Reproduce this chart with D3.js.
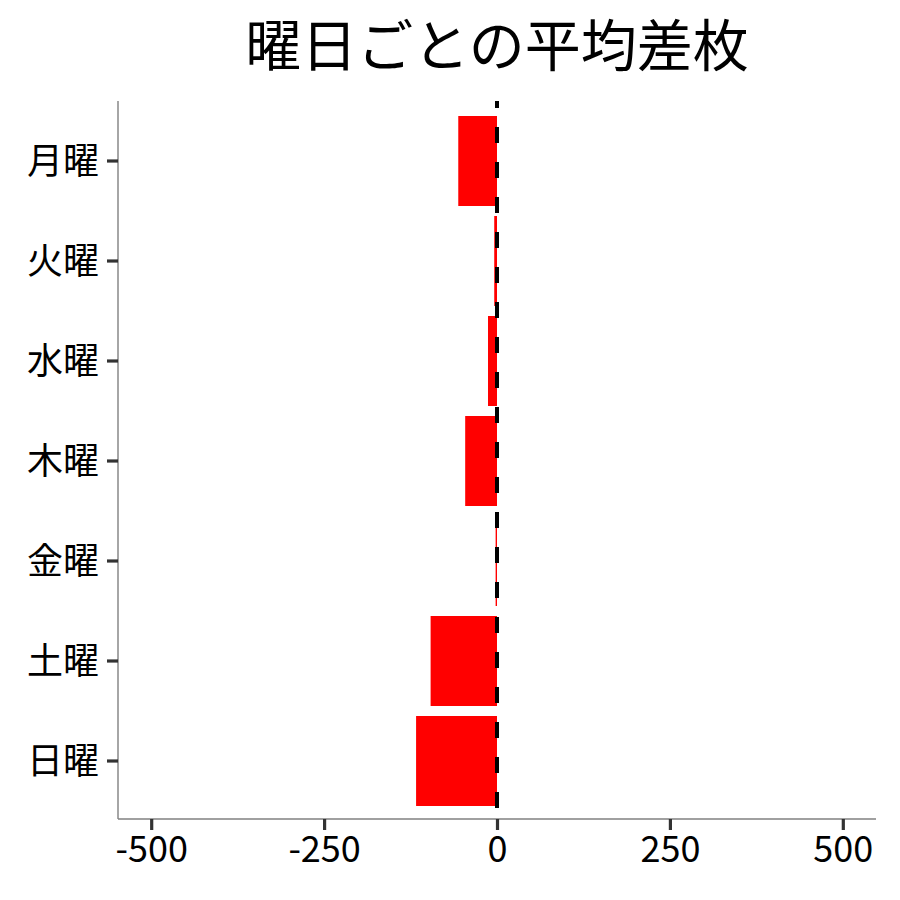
<!DOCTYPE html>
<html>
<head>
<meta charset="utf-8">
<script src="https://cdn.jsdelivr.net/npm/d3@7"></script>
<style>
  body { margin: 0; background: #fff; }
  text { font-family: "Noto Sans CJK JP", "Noto Sans", sans-serif; }
</style>
</head>
<body>
<div id="chart"></div>
<script>
// data
const days = ['月曜', '火曜', '水曜', '木曜', '金曜', '土曜', '日曜'];
const avgDiff = [-56, -4, -13, -46, -2, -96, -117];
const xTicks = [-500, -250, 0, 250, 500];
const title = '曜日ごとの平均差枚';

const w = 900, h = 900;
const panel = { left: 118, right: 876, top: 101, bottom: 819 };

const svg = d3.select('#chart').append('svg')
  .attr('width', w)
  .attr('height', h);

const xScale = d3.scaleLinear()
  .domain([-548, 548])
  .range([panel.left, panel.right]);

const yScale = d3.scaleBand()
  .domain(days)
  .range([106, 816])
  .paddingInner(0.1)
  .paddingOuter(0.1);

const rows = days.map((d, i) => ({ day: d, value: avgDiff[i] }));

// bars
svg.selectAll('rect.bar')
  .data(rows)
  .enter()
  .append('rect')
  .attr('class', 'bar')
  .attr('x', d => xScale(Math.min(0, d.value)))
  .attr('width', d => Math.abs(xScale(d.value) - xScale(0)))
  .attr('y', d => yScale(d.day))
  .attr('height', yScale.bandwidth())
  .style('fill', '#ff0000');

// zero line
svg.append('line')
  .attr('x1', xScale(0)).attr('x2', xScale(0))
  .attr('y1', panel.top).attr('y2', panel.bottom)
  .attr('stroke', '#000')
  .attr('stroke-width', 4)
  .attr('stroke-dasharray', '16,19')
  .attr('stroke-dashoffset', 9);

// axis lines
svg.append('line')
  .attr('x1', panel.left).attr('x2', panel.left)
  .attr('y1', panel.top).attr('y2', panel.bottom)
  .attr('stroke', '#808080').attr('stroke-width', 1.4);
svg.append('line')
  .attr('x1', panel.left).attr('x2', panel.right)
  .attr('y1', panel.bottom).attr('y2', panel.bottom)
  .attr('stroke', '#808080').attr('stroke-width', 1.4);

const yAxis = d3.axisLeft(yScale).tickSize(11).tickPadding(8);
const gy = svg.append('g')
  .attr('transform', 'translate(' + panel.left + ',0)')
  .call(yAxis);
gy.select('.domain').remove();
gy.selectAll('.tick line').attr('stroke', '#333').attr('stroke-width', 3.2);
gy.selectAll('.tick text')
  .attr('fill', '#000')
  .style('font-size', '36px')
  .attr('dy', '0.36em');

const xAxis = d3.axisBottom(xScale)
  .tickValues(xTicks)
  .tickFormat(d => String(d))
  .tickSize(11)
  .tickPadding(6);
const gx = svg.append('g')
  .attr('transform', 'translate(0,' + panel.bottom + ')')
  .call(xAxis);
gx.select('.domain').remove();
gx.selectAll('.tick line').attr('stroke', '#333').attr('stroke-width', 3.2);
gx.selectAll('.tick text')
  .attr('fill', '#000')
  .style('font-size', '36px');

// title
svg.append('text')
  .attr('x', 497)
  .attr('y', 66)
  .style('text-anchor', 'middle')
  .style('font-size', '56px')
  .text(title);
</script>
</body>
</html>
